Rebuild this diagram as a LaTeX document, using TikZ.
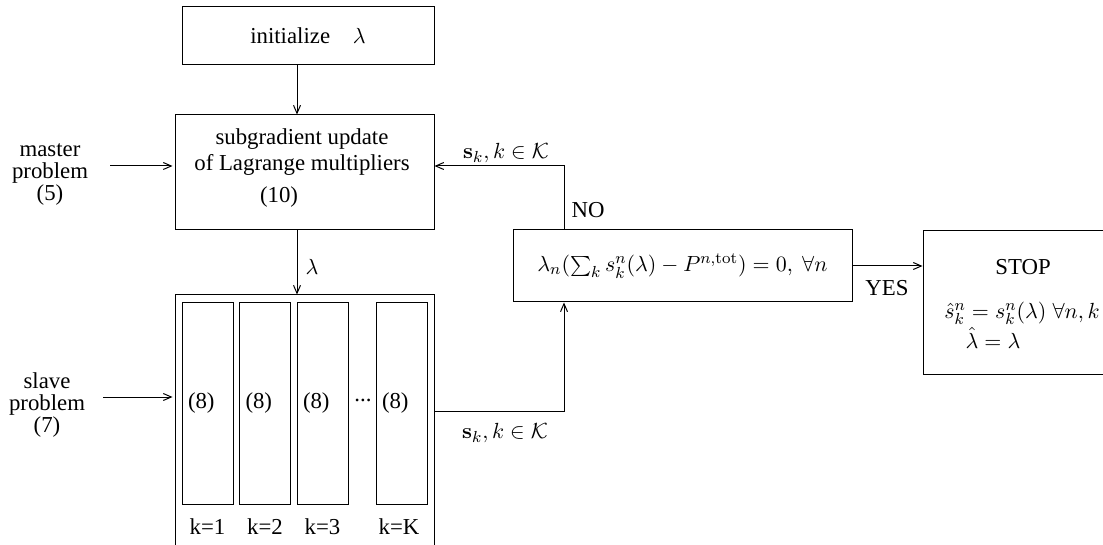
\documentclass[tikz,border=0pt]{standalone}
\usepackage[no-math]{fontspec}
\setmainfont{Liberation Serif}
\usepackage{tikz}
\usetikzlibrary{arrows.meta,positioning,calc}

\begin{document}
\begin{tikzpicture}[x=0.5pt,y=-0.5pt,
  font=\fontsize{11.4}{13}\selectfont,
  blk/.style={draw, line width=0.5pt, inner sep=0pt},
  subbox/.style={draw, line width=0.5pt, minimum width=25.5pt, minimum height=100.5pt,
    text width=19.5pt, inner sep=3pt, align=left},
  flow/.style={line width=0.5pt, -{Straight Barb[length=4pt,width=3.5pt]}},
  lbl/.style={inner sep=0pt, align=center}]
\useasboundingbox (0,0) rectangle (1103,545);

% Master problem
\node[blk, minimum width=126pt, minimum height=29pt] (init) at (308,36) {initialize\quad$\lambda$};
\node[blk, minimum width=129.5pt, minimum height=57.5pt] (sub) at (304.5,172.5) {};
\node[lbl, font=\fontsize{11.4}{13}\selectfont] (subtxt) at (302,152) {subgradient update\\of Lagrange multipliers};
\node[lbl] (subeq) at (279,197) {(10)};
\node[lbl, font=\fontsize{11.4}{11}\selectfont] (master) at (50,175) {master\\problem\\(5)};

% Slave problems
\node[blk, minimum width=129.5pt, minimum height=130pt] (slave) at (304.5,425) {};
\node[subbox] (k1) at (207.5,403.5) {(8)};
\node[subbox] (k2) at (265,403.5) {(8)};
\node[subbox] (k3) at (322.5,403.5) {(8)};
\node[subbox] (kK) at (401.5,403.5) {(8)};
\node[lbl] (dots) at (363,400) {...};
\node[lbl] (lk1) at (207.5,527) {k=1};
\node[lbl] (lk2) at (265,527) {k=2};
\node[lbl] (lk3) at (322.5,527) {k=3};
\node[lbl] (lkK) at (399,527) {k=K};
\node[lbl, font=\fontsize{11.4}{11}\selectfont] (slavetxt) at (47,405) {slave\\problem\\(7)};

% Stopping test
\node[blk, minimum width=169.5pt, minimum height=36pt] (eq) at (682.5,266)
  {$\lambda_n(\sum_k s_k^n(\lambda) - P^{n,\mathrm{tot}}) = 0,\ \forall n$};
\node[blk, minimum width=101pt, minimum height=71.5pt] (stop) at (1024,302.5) {};
\node[lbl] (stoptxt) at (1023,267) {STOP};
\node[lbl] (shat) at (1022,313) {$\hat{s}_k^n = s_k^n(\lambda)\;\forall n,k$};
\node[lbl] (lhat) at (993,338) {$\hat{\lambda} = \lambda$};

% Connectors
\coordinate (cx) at (297,0);
\coordinate (mst) at (110,166);
\coordinate (slv) at (103,397);
\coordinate (fb) at (564,166);
\coordinate (sq) at (564,411);
\draw[flow] (init.south -| cx) -- (sub.north -| cx);
\draw[flow] (sub.south -| cx) -- (slave.north -| cx);
\draw[flow, shorten >=1pt] (mst) -- (sub.west |- mst);
\draw[flow, shorten >=1pt] (slv) -- (slave.west |- slv);
\draw[flow] (eq.north -| fb) -- (fb) -- (sub.east |- fb);
\draw[flow] (slave.east |- sq) -- (sq) -- (eq.south -| sq);
\draw[flow] (eq.east) -- (stop.west |- eq.east);

% Labels on connectors
\node[lbl] (lam) at (312,267) {$\lambda$};
\node[lbl] (skup) at (506,153) {$\mathbf{s}_k, k \in \mathcal{K}$};
\node[lbl] (sklo) at (505,433) {$\mathbf{s}_k, k \in \mathcal{K}$};
\node[lbl] (no) at (588,210) {NO};
\node[lbl] (yes) at (887,288) {YES};
\end{tikzpicture}
\end{document}
